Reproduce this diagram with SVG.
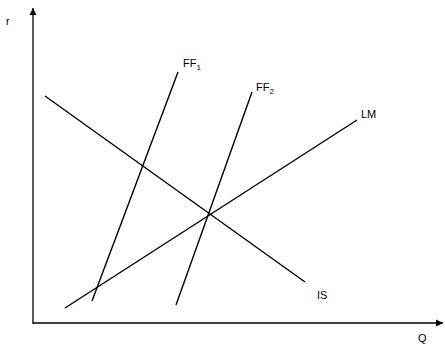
<svg xmlns="http://www.w3.org/2000/svg" width="445" height="346" viewBox="0 0 445 346">
<defs>
<style>
.ax{stroke:#000;stroke-width:1.3;fill:none}
.ln{stroke:#000;stroke-width:1.4;fill:none}
.t{font-family:"Liberation Sans",Arial,sans-serif;font-size:11px;fill:#000}
.s{font-size:8px}
</style>
<marker id="ah" markerWidth="8" markerHeight="8" refX="7" refY="4" orient="auto" markerUnits="userSpaceOnUse">
<path d="M0,0.5 L7,4 L0,7.5 Z" fill="#000"/>
</marker>
</defs>
<rect width="445" height="346" fill="#fff"/>
<g id="axes">
<line class="ax" x1="33" y1="324" x2="33" y2="8" marker-end="url(#ah)"/>
<line class="ax" x1="33" y1="323" x2="443" y2="323" marker-end="url(#ah)"/>
<text class="t" x="6" y="25">r</text>
<text class="t" x="418" y="342">Q</text>
</g>
<g id="connectors">
<line id="IS" class="ln" x1="45" y1="96" x2="305" y2="282"/>
<line id="LM" class="ln" x1="65" y1="308" x2="357" y2="120"/>
<line id="FF1" class="ln" x1="92" y1="301" x2="178" y2="72"/>
<line id="FF2" class="ln" x1="176" y1="305" x2="252" y2="92"/>
</g>
<g id="labels">
<text class="t" x="183" y="67">FF<tspan class="s" dy="3">1</tspan></text>
<text class="t" x="256" y="91">FF<tspan class="s" dy="3">2</tspan></text>
<text class="t" x="361" y="118">LM</text>
<text class="t" x="317" y="299">IS</text>
</g>
</svg>
